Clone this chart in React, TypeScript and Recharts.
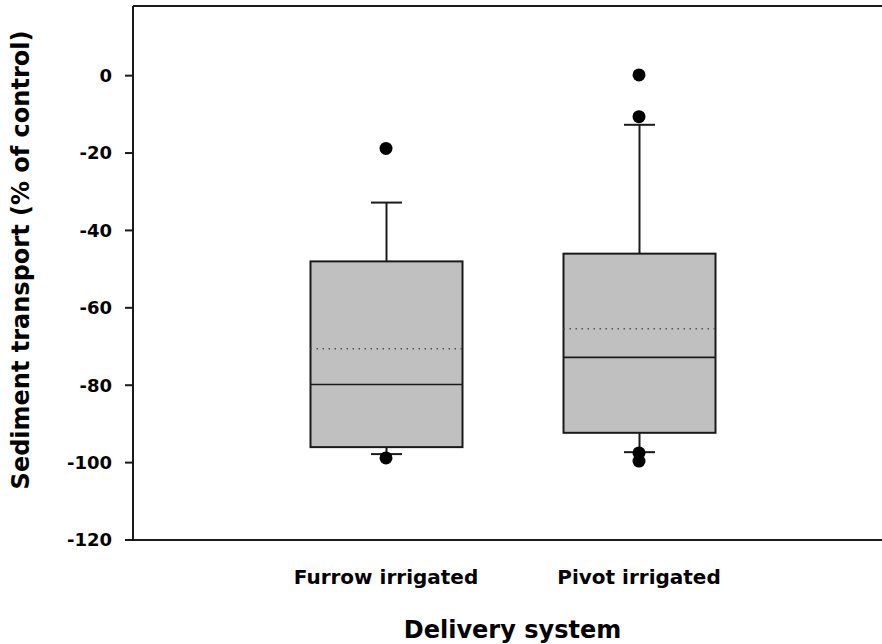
import { ComposedChart, Bar, Scatter, XAxis, YAxis, Label, ReferenceLine } from "recharts";

const groups = ["Furrow irrigated", "Pivot irrigated"];
const positions = [1, 2];
const lowerWhisker = [-97.8, -97.3];
const q1 = [-96, -92.3];
const median = [-79.8, -72.8];
const mean = [-70.6, -65.4];
const q3 = [-48, -46];
const upperWhisker = [-32.8, -12.7];

const outlierGroup = [1, 1, 2, 2, 2, 2];
const outlierValue = [-18.8, -98.8, 0.2, -10.6, -97.5, -99.6];

const yTicks = [-120, -100, -80, -60, -40, -20, 0];
const yMin = -120;
const yMax = 18;

const FONT = "DejaVu Sans";
const INK = "#1a1a1a";

const boxData = groups.map((name, i) => ({
  x: positions[i],
  name,
  box: [q1[i], q3[i]],
  q1: q1[i],
  q3: q3[i],
  median: median[i],
  mean: mean[i],
  lo: lowerWhisker[i],
  hi: upperWhisker[i],
}));

const outliers = outlierGroup.map((g, i) => ({ x: g, y: outlierValue[i] }));

function BoxShape(props: any) {
  const { x, y, width, height, payload } = props;
  // linear scale, so interpolate from the box edges the library computed
  const k = height / (payload.q3 - payload.q1);
  const py = (v: number) => y + (payload.q3 - v) * k;
  const cx = x + width / 2;
  const cap = 15.5;
  const yHi = py(payload.hi);
  const yLo = py(payload.lo);
  return (
    <g>
      <line x1={cx} x2={cx} y1={yHi} y2={y} stroke={INK} strokeWidth={2} />
      <line x1={cx - cap} x2={cx + cap} y1={yHi} y2={yHi} stroke={INK} strokeWidth={2} />
      <line x1={cx} x2={cx} y1={yLo} y2={y + height} stroke={INK} strokeWidth={2} />
      <line x1={cx - cap} x2={cx + cap} y1={yLo} y2={yLo} stroke={INK} strokeWidth={2} />
      <rect x={x} y={y} width={width} height={height} fill="#c0c0c0" stroke={INK} strokeWidth={2} />
      <line x1={x} x2={x + width} y1={py(payload.median)} y2={py(payload.median)} stroke={INK} strokeWidth={1.6} />
      <line
        x1={x}
        x2={x + width}
        y1={py(payload.mean)}
        y2={py(payload.mean)}
        stroke="#555"
        strokeWidth={1.5}
        strokeDasharray="1.5 4.5"
      />
    </g>
  );
}

export default function App() {
  return (
    <div style={{ position: "absolute", left: 0, top: 0, width: 882, height: 644, overflow: "hidden", background: "#fff" }}>
      <ComposedChart width={900} height={644} data={boxData} margin={{ top: 6, right: 8, bottom: 0, left: 0 }}>
        <XAxis
          type="number"
          dataKey="x"
          domain={[0, 3]}
          ticks={positions}
          tickFormatter={(v: number) => groups[v - 1]}
          tickSize={0}
          tickMargin={30}
          height={104}
          axisLine={{ stroke: INK, strokeWidth: 2 }}
          tick={{ fill: "#000", fontFamily: FONT, fontWeight: "bold", fontSize: 20 }}
        >
          <Label
            content={({ viewBox }: any) => (
              <text
                x={viewBox.x + viewBox.width / 2}
                y={viewBox.y + viewBox.height - 6}
                textAnchor="middle"
                fontFamily={FONT}
                fontWeight="bold"
                fontSize={24}
                fill="#000"
              >
                Delivery system
              </text>
            )}
          />
        </XAxis>
        <YAxis
          type="number"
          domain={[yMin, yMax]}
          ticks={yTicks}
          width={133}
          tickSize={8}
          tickMargin={13}
          axisLine={{ stroke: INK, strokeWidth: 2 }}
          tickLine={{ stroke: INK, strokeWidth: 2 }}
          tick={{ fill: "#000", fontFamily: FONT, fontWeight: "bold", fontSize: 18 }}
        >
          <Label
            content={({ viewBox }: any) => {
              const cx = 29;
              const cy = viewBox.y + viewBox.height / 2 - 13;
              return (
                <text
                  x={cx}
                  y={cy}
                  transform={`rotate(-90 ${cx} ${cy})`}
                  textAnchor="middle"
                  fontFamily={FONT}
                  fontWeight="bold"
                  fontSize={24}
                  fill="#000"
                >
                  Sediment transport (% of control)
                </text>
              );
            }}
          />
        </YAxis>
        <ReferenceLine y={yMax} stroke={INK} strokeWidth={2} />
        <Bar dataKey="box" barSize={152} shape={BoxShape} isAnimationActive={false} />
        <Scatter
          data={outliers}
          dataKey="y"
          isAnimationActive={false}
          shape={(p: any) => <circle cx={p.cx} cy={p.cy} r={6.5} fill="#000" />}
        />
      </ComposedChart>
    </div>
  );
}
